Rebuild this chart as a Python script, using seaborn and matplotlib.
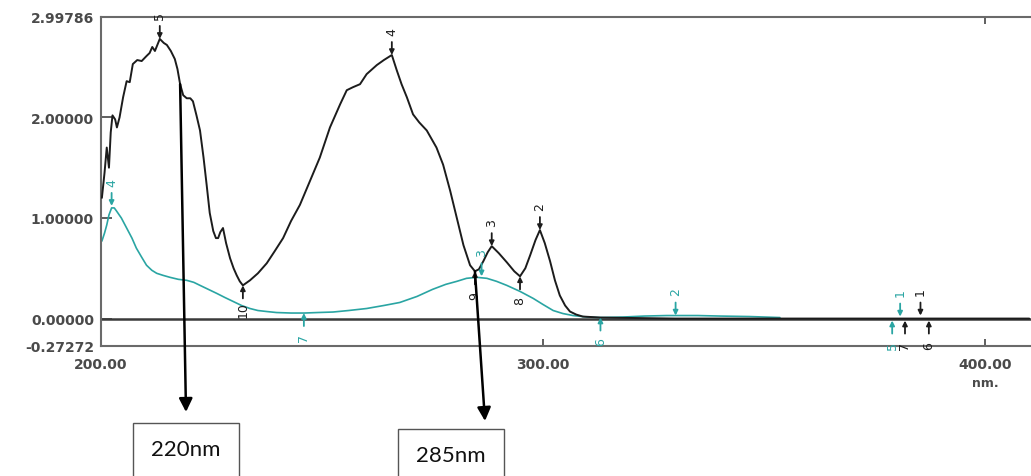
import matplotlib
matplotlib.use("Agg")
import matplotlib.pyplot as plt
import seaborn as sns
import pandas as pd
from matplotlib.patches import Rectangle

# ---------------- data ----------------
black_nm = [200.2, 200.8, 201.3, 201.8, 202.2, 202.6, 203.2, 203.6, 204.2, 205.0,
            205.8, 206.5, 207.2, 208.2, 209.2, 210.3, 211.0, 211.6, 212.2, 213.3,
            214.2, 214.9, 215.8, 216.7, 217.3, 217.9, 218.6, 219.4, 220.2, 220.8,
            221.6, 222.4, 223.2, 223.9, 224.6, 225.4, 226.0, 226.5, 227.0, 227.6,
            228.3, 229.2, 230.0, 230.7, 231.4, 232.1, 233.7, 235.5, 237.5, 239.3,
            241.2, 243.0, 245.0, 247.3, 249.5, 251.8, 254.1, 255.6, 257.0, 258.6,
            260.1, 262.4, 264.0, 265.8, 266.9, 268.0, 269.2, 270.6, 272.0, 273.7,
            275.9, 277.4, 279.0, 280.5, 282.0, 283.5, 284.6, 285.5, 286.5, 287.5,
            288.4, 290.0, 291.8, 293.5, 294.8, 296.0, 297.1, 298.3, 299.3, 300.4,
            301.6, 302.7, 303.8, 305.0, 306.1, 307.5, 309.0, 313.0, 330.0, 360.0,
            385.0, 410.0]
black_abs = [1.20, 1.45, 1.70, 1.50, 1.85, 2.02, 1.98, 1.90, 2.00, 2.20,
             2.36, 2.35, 2.53, 2.57, 2.56, 2.61, 2.64, 2.70, 2.66, 2.78,
             2.74, 2.72, 2.66, 2.58, 2.48, 2.33, 2.22, 2.19, 2.19, 2.16,
             2.02, 1.87, 1.60, 1.33, 1.05, 0.87, 0.80, 0.80, 0.86, 0.90,
             0.75, 0.60, 0.50, 0.43, 0.37, 0.33, 0.38, 0.45, 0.55, 0.67,
             0.80, 0.97, 1.13, 1.37, 1.60, 1.90, 2.13, 2.27, 2.30, 2.33,
             2.43, 2.52, 2.57, 2.62, 2.47, 2.33, 2.20, 2.03, 1.95, 1.87,
             1.70, 1.53, 1.27, 1.00, 0.73, 0.53, 0.47, 0.49, 0.57, 0.66,
             0.72, 0.65, 0.56, 0.47, 0.42, 0.50, 0.63, 0.78, 0.88, 0.75,
             0.57, 0.38, 0.23, 0.13, 0.07, 0.04, 0.02, 0.01, 0.0, 0.0,
             0.0, 0.0]

cyan_nm = [200.2, 200.8, 201.3, 201.8, 202.4, 203.0, 203.5, 204.6, 205.8, 207.0,
           208.0, 209.2, 210.3, 211.5, 212.6, 214.0, 215.6, 217.5, 219.4, 221.0,
           222.4, 224.3, 226.2, 228.0, 229.9, 231.8, 233.7, 235.5, 237.5, 239.7,
           243.0, 246.0, 249.0, 252.5, 256.0, 260.1, 264.0, 267.6, 271.5, 275.0,
           278.0, 280.5, 282.7, 285.0, 287.3, 289.5, 291.8, 294.8, 297.8, 300.0,
           302.3, 304.5, 306.8, 310.0, 313.0, 318.0, 323.0, 328.0, 335.0, 340.0,
           346.8, 353.6]
cyan_abs = [0.77, 0.85, 0.93, 1.03, 1.10, 1.10, 1.07, 1.00, 0.90, 0.80,
            0.70, 0.61, 0.53, 0.48, 0.45, 0.43, 0.41, 0.39, 0.38, 0.36,
            0.33, 0.29, 0.25, 0.21, 0.17, 0.13, 0.10, 0.08, 0.07, 0.06,
            0.055, 0.055, 0.06, 0.065, 0.08, 0.10, 0.13, 0.16, 0.22, 0.29,
            0.34, 0.37, 0.40, 0.41, 0.40, 0.37, 0.33, 0.27, 0.20, 0.14,
            0.08, 0.05, 0.03, 0.015, 0.01, 0.015, 0.025, 0.03, 0.03, 0.025,
            0.02, 0.01]

black_peak_nm = [213.3, 265.8, 288.4, 299.3, 385.4]
black_peak_abs = [2.78, 2.62, 0.72, 0.88, 0.03]
black_peak_labels = ["5", "4", "3", "2", "1"]
black_valley_nm = [232.1, 284.6, 294.8, 381.9, 387.3]
black_valley_abs = [0.33, 0.47, 0.42, -0.02, -0.02]
black_valley_labels = ["10", "9", "8", "7", "6"]

cyan_peak_nm = [202.4, 286.1, 330.0, 380.8]
cyan_peak_abs = [1.12, 0.42, 0.03, 0.02]
cyan_peak_labels = ["4", "3", "2", "1"]
cyan_valley_nm = [245.9, 313.0, 379.0]
cyan_valley_abs = [0.055, 0.01, -0.02]
cyan_valley_labels = ["7", "6", "5"]

y_ticks = [-0.27272, 0.0, 1.0, 2.0, 2.99786]
x_ticks = [200, 300, 400]
x_tick_labels = ["200.00", "300.00", "400.00"]
x_unit = "nm."

annot_labels = ["220nm", "285nm"]
annot_nm = [217.9, 284.6]
annot_abs = [2.33, 0.47]

# ---------------- style ----------------
sns.set_theme(style="white")
plt.rcParams["font.family"] = ["DejaVu Sans"]

BLACK = "#1c1c1c"
CYAN = "#2aa5a3"
TICKC = "#4a4a4a"

W, H = 1031, 477
fig = plt.figure(figsize=(W / 100, H / 100), dpi=100)
ax = fig.add_axes([101 / W, 1 - 347 / H, (W - 101) / W, (347 - 18) / H])

df_b = pd.DataFrame({"nm": black_nm, "abs": black_abs})
df_c = pd.DataFrame({"nm": cyan_nm, "abs": cyan_abs})

ax.axhline(0, color="#3a3a3a", lw=1.8, zorder=1)
sns.lineplot(data=df_c, x="nm", y="abs", ax=ax, color=CYAN, lw=1.2, sort=False,
             estimator=None, zorder=2)
sns.lineplot(data=df_b, x="nm", y="abs", ax=ax, color=BLACK, lw=1.4, sort=False,
             estimator=None, zorder=3)

ax.set_xlim(200, 200 + (W - 101) / 4.42)
ax.set_ylim(y_ticks[0], y_ticks[-1])
ax.set_xlabel("")
ax.set_ylabel("")

ax.set_yticks(y_ticks)
ax.set_yticklabels([f"{v:.5f}" for v in y_ticks])
ax.set_xticks(x_ticks)
ax.set_xticklabels(x_tick_labels)
ax.tick_params(axis="y", direction="in", length=8, width=1.2, color="#444",
               pad=5, labelsize=10, labelcolor=TICKC, left=True)
ax.tick_params(axis="x", direction="in", length=5, width=1.2, color="#444",
               pad=8, labelsize=10, labelcolor=TICKC, bottom=True)
for lab in ax.get_xticklabels() + ax.get_yticklabels():
    lab.set_fontweight("bold")

sec = ax.secondary_xaxis("top")
sec.set_xticks([400])
sec.set_xticklabels([])
sec.tick_params(direction="in", length=5, width=1.2, color="#444")
sec.spines["top"].set_visible(False)

for side in ["left", "bottom", "top"]:
    ax.spines[side].set_color("#6a6a6a")
    ax.spines[side].set_linewidth(1.5)
ax.spines["right"].set_visible(False)

ax.text(400, -0.112, x_unit, transform=ax.get_xaxis_transform(), ha="center",
        va="center", fontsize=9, fontweight="bold", color=TICKC)


def mark(nms, vals, labels, color, up):
    s = 1 if up else -1
    for n, v, lbl in zip(nms, vals, labels):
        ax.annotate("", xy=(n, v), xytext=(0, s * 13), textcoords="offset pixels",
                    arrowprops=dict(arrowstyle="-|>", color=color, lw=1.3,
                                    mutation_scale=7, shrinkA=0, shrinkB=0),
                    zorder=5)
        ax.annotate(lbl, xy=(n, v), xytext=(0, s * 24), textcoords="offset pixels",
                    rotation=90, ha="center", va="center", fontsize=9,
                    color=color, zorder=5)


mark(black_peak_nm, black_peak_abs, black_peak_labels, BLACK, True)
mark(black_valley_nm, black_valley_abs, black_valley_labels, BLACK, False)
mark(cyan_peak_nm, cyan_peak_abs, cyan_peak_labels, CYAN, True)
mark(cyan_valley_nm, cyan_valley_abs, cyan_valley_labels, CYAN, False)

# annotation arrows and boxes (figure pixel layout)
tips = [(186, 413), (485, 422)]
boxes = [(133, 424, 106, 60), (398, 430, 106, 60)]
text_pos = [(186, 450), (451, 456)]
for lbl, n, v, tip, box, tp in zip(annot_labels, annot_nm, annot_abs, tips, boxes, text_pos):
    ax.annotate("", xy=(tip[0] / W, 1 - tip[1] / H), xycoords="figure fraction",
                xytext=(n, v), textcoords="data",
                arrowprops=dict(arrowstyle="-|>", color="black", lw=1.8,
                                mutation_scale=20, shrinkA=0, shrinkB=0),
                annotation_clip=False, zorder=6)
    bx, by, bw, bh = box
    fig.add_artist(Rectangle((bx / W, 1 - (by + bh) / H), bw / W, bh / H,
                             transform=fig.transFigure, fill=False,
                             edgecolor="#555555", lw=1.0))
    fig.text(tp[0] / W, 1 - tp[1] / H, lbl, ha="center", va="center",
             fontsize=16, family=["Lato", "DejaVu Sans"], color="#111111")

fig.savefig("out.png", dpi=100)
